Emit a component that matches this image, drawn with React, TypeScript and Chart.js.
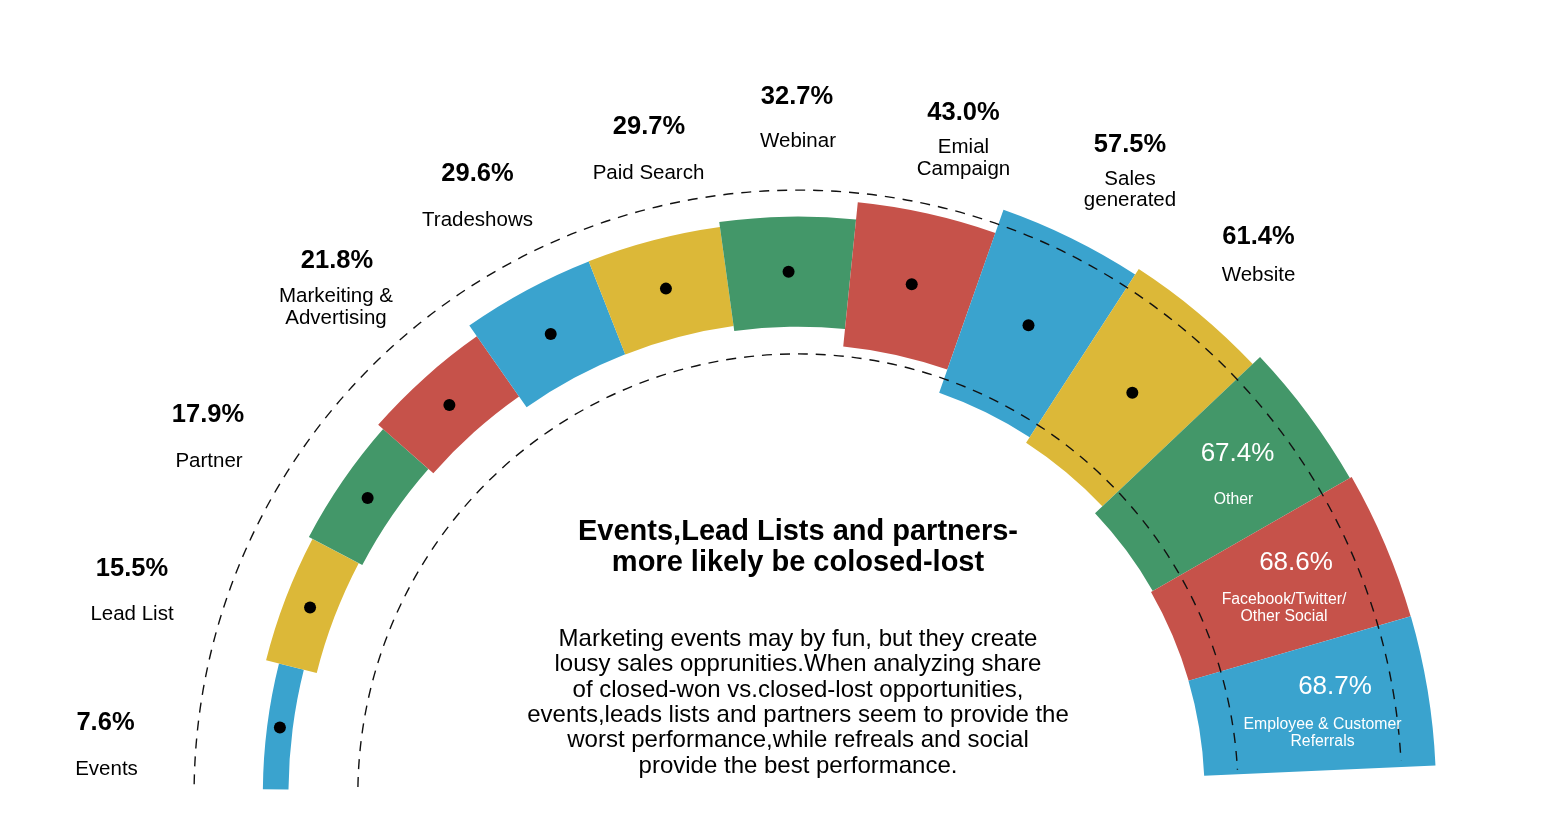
import { useEffect, useRef } from 'react';
import { Chart, registerables } from 'chart.js';

Chart.register(...registerables);

// ---------------- data ----------------
const categories = [
  'Events',
  'Lead List',
  'Partner',
  'Markeiting & Advertising',
  'Tradeshows',
  'Paid Search',
  'Webinar',
  'Emial Campaign',
  'Sales generated',
  'Website',
  'Other',
  'Facebook/Twitter/Other Social',
  'Employee & Customer Referrals',
];

const categoryLines = [
  ['Events'],
  ['Lead List'],
  ['Partner'],
  ['Markeiting &', 'Advertising'],
  ['Tradeshows'],
  ['Paid Search'],
  ['Webinar'],
  ['Emial', 'Campaign'],
  ['Sales', 'generated'],
  ['Website'],
  ['Other'],
  ['Facebook/Twitter/', 'Other Social'],
  ['Employee & Customer', 'Referrals'],
];

const values = [7.6, 15.5, 17.9, 21.8, 29.6, 29.7, 32.7, 43.0, 57.5, 61.4, 67.4, 68.6, 68.7];

const valueLabels = values.map((v) => v.toFixed(1) + '%');

const labelInside = [false, false, false, false, false, false, false, false, false, false, true, true, true];

const titleLines = ['Events,Lead Lists and partners-', 'more likely be colosed-lost'];

const bodyLines = [
  'Marketing events may by fun, but they create',
  'lousy sales opprunities.When analyzing share',
  'of closed-won vs.closed-lost opportunities,',
  'events,leads lists and partners seem to provide the',
  'worst performance,while refreals and social',
  'provide the best performance.',
];

// ---------------- styles / layout ----------------
const BLUE = '#3AA3CE';
const YELLOW = '#DCB838';
const GREEN = '#439769';
const RED = '#C6524A';
const segmentColors = [BLUE, YELLOW, GREEN, RED, BLUE, YELLOW, GREEN, RED, BLUE, YELLOW, GREEN, RED, BLUE];

const FONT = '"Liberation Sans", Arial, Helvetica, sans-serif';
const W = 1556;
const H = 818;
const CX = 798;
const CY = 794;
const PX_PER_UNIT = 3.37; // radial scale: px per percentage point
const SCALE_MAX = 100;
const RING_CENTER_VALUE = 155.0; // band centre line, in scale units
const DASH_VALUES = [130.6, 179.2]; // dashed guide circles, in scale units
const START_ANGLE = -89.5; // degrees, 0 = 12 o'clock
const SEG_ANGLE = 13.61; // degrees per segment
const DASH_START = Math.PI + 0.016;
const DASH_END = 2 * Math.PI - 0.055;
const OUT_SHIFT = 2;
const IN_SHIFT = 1.5;

// label anchors relative to chart centre: [valueDx, valueDy, nameDx, nameDy]
const labelOffsets = [
  [-692.5, -73.5, -691.5, -26.5],
  [-666, -227, -666, -182],
  [-590, -381, -589, -335],
  [-461, -535.5, -462, -488.5],
  [-320.5, -622, -320.5, -576],
  [-149, -669, -149.5, -623],
  [-1, -699.5, 0, -655],
  [165.5, -683.5, 165.5, -637.5],
  [332, -651, 332, -606],
  [460.5, -559, 460.5, -521],
  [439.5, -342, 435.5, -295.5],
  [498, -233, 486, -187],
  [537, -108.5, 524.5, -62],
];

const bandPlugin = {
  id: 'band',
  afterDatasetsUpdate(chart: any) {
    const scale = chart.scales.r;
    const mid = scale.getDistanceFromCenterForValue(RING_CENTER_VALUE);
    const meta = chart.getDatasetMeta(0);
    meta.data.forEach((arc: any) => {
      const t = arc.outerRadius;
      arc.innerRadius = mid - t / 2;
      arc.outerRadius = mid + t / 2;
    });
  },
};

const overlayPlugin = {
  id: 'overlay',
  afterDatasetsDraw(chart: any) {
    const ctx = chart.ctx as CanvasRenderingContext2D;
    const scale = chart.scales.r;
    const cx = scale.xCenter;
    const cy = scale.yCenter;

    // dashed guide arcs
    ctx.save();
    ctx.strokeStyle = '#111';
    ctx.lineWidth = 1.4;
    ctx.setLineDash([10, 8]);
    DASH_VALUES.forEach((v) => {
      const r = scale.getDistanceFromCenterForValue(v);
      ctx.beginPath();
      ctx.arc(cx, cy, r, DASH_START, DASH_END);
      ctx.stroke();
    });
    ctx.restore();

    // dots and labels
    const meta = chart.getDatasetMeta(0);
    ctx.save();
    ctx.textAlign = 'center';
    ctx.textBaseline = 'middle';
    meta.data.forEach((arc: any, i: number) => {
      const inside = labelInside[i];
      const [vdx, vdy, ndx, ndy] = labelOffsets[i];
      const shift = inside ? IN_SHIFT : OUT_SHIFT;
      if (!inside) {
        const p = arc.getCenterPoint();
        ctx.fillStyle = '#000';
        ctx.beginPath();
        ctx.arc(p.x, p.y, 6, 0, Math.PI * 2);
        ctx.fill();
      }
      ctx.fillStyle = inside ? '#fff' : '#000';
      ctx.font = inside ? `26px ${FONT}` : `bold 25.5px ${FONT}`;
      ctx.fillText(valueLabels[i], cx + vdx, cy + vdy + shift);
      const lines = categoryLines[i];
      const lh = inside ? 16.8 : 21.5;
      ctx.font = inside ? `15.8px ${FONT}` : `20.5px ${FONT}`;
      lines.forEach((ln, k) => {
        const y = cy + ndy + shift + (k - (lines.length - 1) / 2) * lh;
        ctx.fillText(ln, cx + ndx, y);
      });
    });
    ctx.restore();
  },
  afterDraw(chart: any) {
    const ctx = chart.ctx as CanvasRenderingContext2D;
    ctx.save();
    ctx.textAlign = 'center';
    ctx.textBaseline = 'middle';
    ctx.fillStyle = '#000';
    ctx.font = `bold 29px ${FONT}`;
    titleLines.forEach((ln, k) => ctx.fillText(ln, CX, 532 + k * 31));
    ctx.font = `24px ${FONT}`;
    bodyLines.forEach((ln, k) => ctx.fillText(ln, CX, 639.5 + k * 25.3));
    ctx.restore();
  },
};

export default function App() {
  const ref = useRef<HTMLCanvasElement | null>(null);
  useEffect(() => {
    if (!ref.current) return;
    const chart = new Chart(ref.current, {
      type: 'polarArea',
      data: {
        labels: categories,
        datasets: [
          {
            data: values,
            backgroundColor: segmentColors,
            borderWidth: 0,
            angle: SEG_ANGLE,
          } as any,
        ],
      },
      options: {
        responsive: false,
        animation: false,
        events: [],
        layout: { padding: 0 },
        plugins: { legend: { display: false }, tooltip: { enabled: false } },
        scales: {
          r: {
            display: false,
            min: 0,
            max: SCALE_MAX,
            startAngle: START_ANGLE,
            afterFit: (scale: any) => {
              scale.xCenter = CX;
              scale.yCenter = CY;
              scale.drawingArea = PX_PER_UNIT * SCALE_MAX;
            },
          } as any,
        },
      },
      plugins: [bandPlugin, overlayPlugin],
    });
    return () => chart.destroy();
  }, []);
  return (
    <div style={{ position: 'absolute', left: 0, top: 0, width: W, height: H, background: '#fff' }}>
      <canvas ref={ref} width={W} height={H} style={{ display: 'block' }} />
    </div>
  );
}
